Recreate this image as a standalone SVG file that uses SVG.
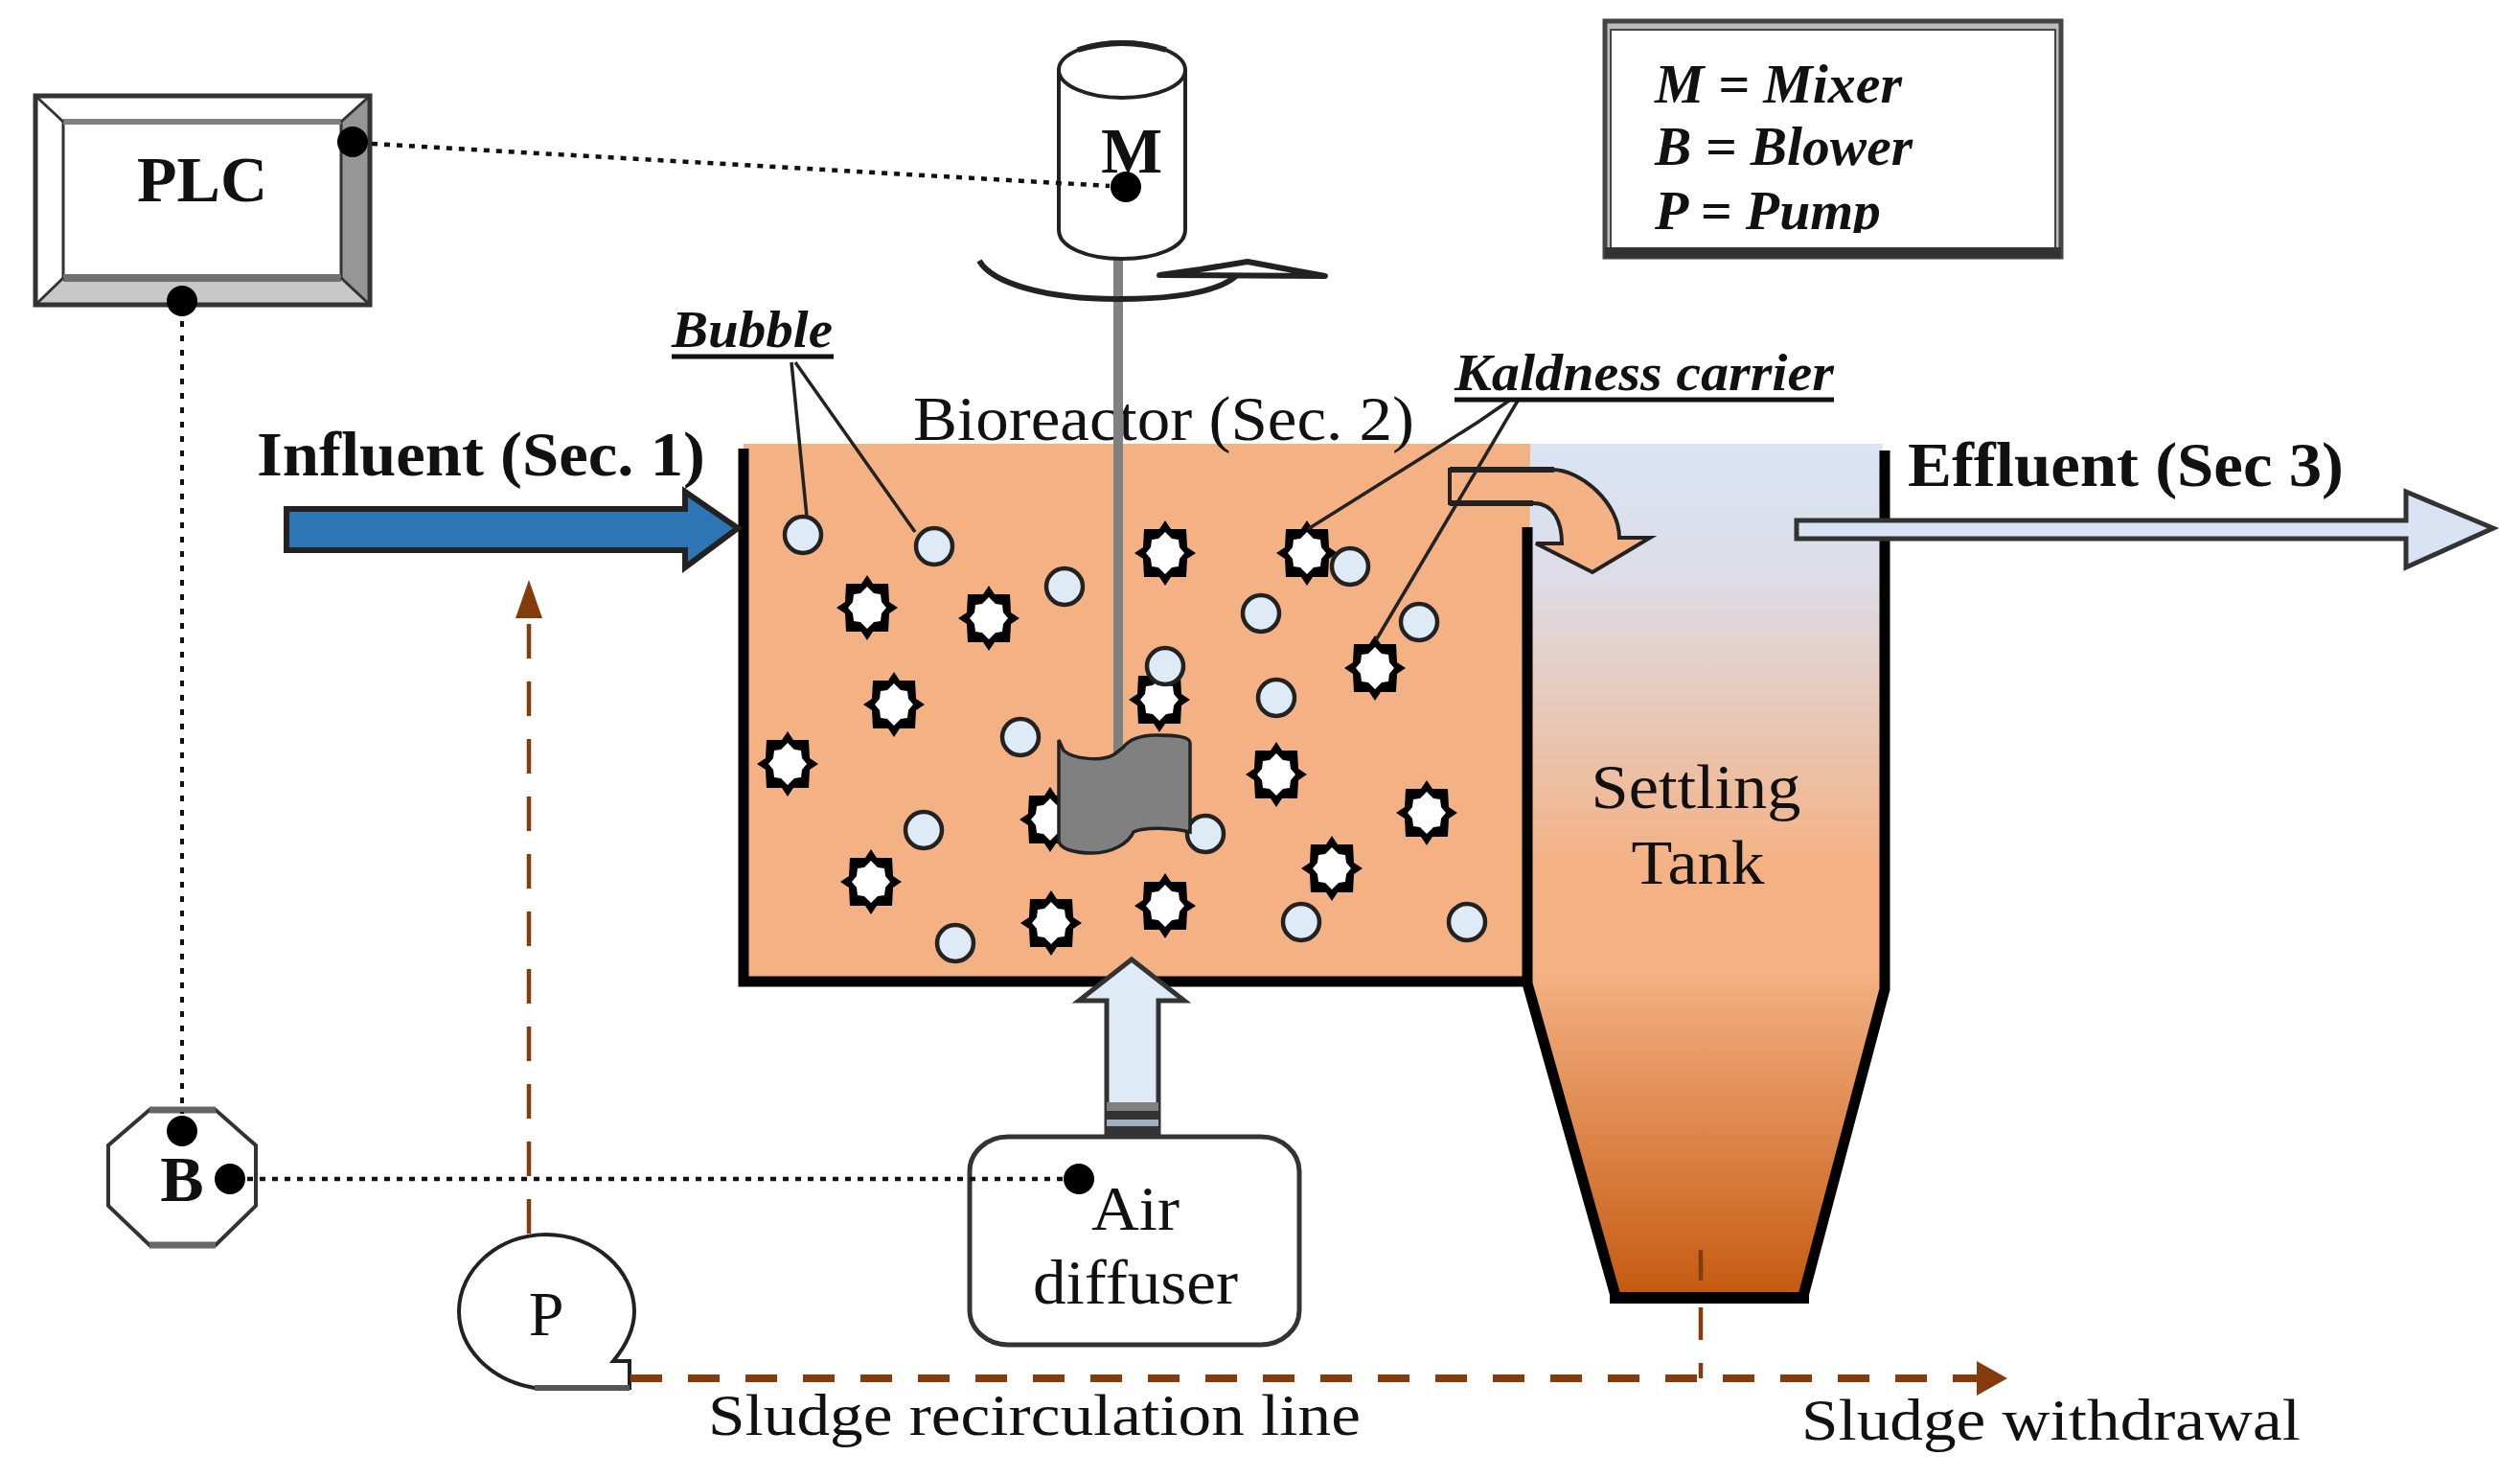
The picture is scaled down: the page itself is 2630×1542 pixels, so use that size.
<svg xmlns="http://www.w3.org/2000/svg" xmlns:xlink="http://www.w3.org/1999/xlink" width="2630" height="1542" viewBox="0 0 2630 1542">
<style>
text{font-family:"Liberation Serif","Times New Roman",serif;fill:#111}
.b{font-weight:bold}
.i{font-style:italic;font-weight:bold}
.dot{fill:#000}
.dotted{fill:none;stroke:#111;stroke-width:4.5;stroke-dasharray:6 7}
.dottedv{fill:none;stroke:#111;stroke-width:4;stroke-dasharray:6 9}
.sludge{fill:none;stroke:#843C0C;stroke-width:8;stroke-dasharray:33 27}
.thin{fill:none;stroke:#843C0C;stroke-width:4.5}
.leader{fill:none;stroke:#222;stroke-width:3.5}
.wall{fill:none;stroke:#000;stroke-width:11}
.bub{fill:#DEEBF7;stroke:#222;stroke-width:4.5}
</style>
<defs>
<linearGradient id="settle" x1="0" y1="0" x2="0" y2="1">
<stop offset="0" stop-color="#D9E4F4"/>
<stop offset="0.15" stop-color="#DDDDE8"/>
<stop offset="0.5" stop-color="#F4B183"/>
<stop offset="0.62" stop-color="#F4B183"/>
<stop offset="1" stop-color="#C55A11"/>
</linearGradient>
<g id="star">
<polygon points="0,-34 6,-25 22,-25 23,-6 32,0 23,6 22,25 6,25 0,34 -6,25 -22,25 -23,6 -32,0 -23,-6 -22,-25 -6,-25" fill="#000"/>
<polygon points="0,-22 7,-15 14,-14 15,-6 20,0 15,6 14,14 7,15 0,22 -7,15 -14,14 -15,6 -20,0 -15,-6 -14,-14 -7,-15" fill="#fff"/>
</g>
<clipPath id="legendClip"><rect x="1680" y="40" width="460" height="203"/></clipPath>
</defs>

<g id="plc">
<rect x="37" y="100" width="349" height="218" fill="#fff"/>
<polygon points="356,127 386,100 386,318 356,290" fill="#969696"/>
<polygon points="66,290 356,290 386,318 37,318" fill="#C8C8C8"/>
<rect x="37" y="100" width="349" height="218" fill="none" stroke="#333" stroke-width="5"/>
<rect x="66" y="127" width="290" height="163" fill="#fff" stroke="#333" stroke-width="3"/>
<path d="M66 127H356" stroke="#808080" stroke-width="6"/>
<path d="M66 290H356" stroke="#707070" stroke-width="8"/>
<path d="M37 100L66 127M386 100L356 127M37 318L66 290M386 318L356 290" stroke="#333" stroke-width="3"/>
<text class="b" x="211" y="210" font-size="68" text-anchor="middle" textLength="136" lengthAdjust="spacingAndGlyphs">PLC</text>
<circle class="dot" cx="368" cy="148" r="16"/>
<circle class="dot" cx="190" cy="314" r="16"/>
</g>

<g id="legend">
<rect x="1675" y="22" width="476" height="246" fill="#BDBDBD" stroke="#444" stroke-width="5"/>
<rect x="1681" y="31" width="464" height="228" fill="#fff" stroke="#444" stroke-width="2"/>
<rect x="1675" y="258" width="476" height="11" fill="#333"/>
<text class="i" x="1727" y="107" font-size="58" textLength="258" lengthAdjust="spacingAndGlyphs">M = Mixer</text>
<text class="i" x="1727" y="172" font-size="58" textLength="269" lengthAdjust="spacingAndGlyphs">B = Blower</text>
<text class="i" x="1727" y="239" font-size="58" textLength="236" lengthAdjust="spacingAndGlyphs" clip-path="url(#legendClip)">P = Pump</text>
</g>

<g id="bioreactor">
<rect x="776" y="463" width="821" height="557" fill="#F4B183"/>
<path d="M776 468V1024H1594" fill="none" stroke="#000" stroke-width="11"/>
<text x="953" y="459" font-size="66" textLength="523" lengthAdjust="spacingAndGlyphs">Bioreactor (Sec. 2)</text>
</g>

<g id="settling-tank">
<path d="M1597 463H1965V1030L1880 1352H1686L1594 1026Z" fill="url(#settle)"/>
<path class="wall" d="M1967 470V1032L1882 1352"/>
<path class="wall" d="M1594 550V1026L1686 1352"/>
<path d="M1680 1354H1888" stroke="#000" stroke-width="12"/>
<text x="1770" y="843" font-size="66" text-anchor="middle" textLength="219" lengthAdjust="spacingAndGlyphs">Settling</text>
<text x="1772" y="922" font-size="66" text-anchor="middle" textLength="139" lengthAdjust="spacingAndGlyphs">Tank</text>
</g>

<g id="overflow">
<path d="M1513 490H1620C1650 490 1690 525 1690 561H1722L1662 597L1603 567H1630C1630 545 1622 525 1600 525H1513Z" fill="#F4B183" stroke="#222" stroke-width="4"/>
<path d="M1513 490H1622M1513 525H1600" stroke="#222" stroke-width="6" fill="none"/>
</g>

<g id="carriers">
<use xlink:href="#star" href="#star" x="1216" y="577"/>
<use xlink:href="#star" href="#star" x="1364" y="577"/>
<use xlink:href="#star" href="#star" x="905" y="634"/>
<use xlink:href="#star" href="#star" x="1032" y="645"/>
<use xlink:href="#star" href="#star" x="933" y="735"/>
<use xlink:href="#star" href="#star" x="822" y="797"/>
<use xlink:href="#star" href="#star" x="1210" y="730"/>
<use xlink:href="#star" href="#star" x="1435" y="697"/>
<use xlink:href="#star" href="#star" x="1332" y="808"/>
<use xlink:href="#star" href="#star" x="1489" y="848"/>
<use xlink:href="#star" href="#star" x="1390" y="906"/>
<use xlink:href="#star" href="#star" x="909" y="920"/>
<use xlink:href="#star" href="#star" x="1097" y="963"/>
<use xlink:href="#star" href="#star" x="1216" y="945"/>
<use xlink:href="#star" href="#star" x="1096" y="855"/>
</g>

<g id="bubbles">
<circle class="bub" cx="838" cy="558" r="19"/>
<circle class="bub" cx="975" cy="570" r="19"/>
<circle class="bub" cx="1111" cy="612" r="19"/>
<circle class="bub" cx="1316" cy="640" r="19"/>
<circle class="bub" cx="1409" cy="591" r="19"/>
<circle class="bub" cx="1481" cy="649" r="19"/>
<circle class="bub" cx="1216" cy="695" r="19"/>
<circle class="bub" cx="1332" cy="728" r="19"/>
<circle class="bub" cx="1065" cy="769" r="19"/>
<circle class="bub" cx="964" cy="866" r="19"/>
<circle class="bub" cx="1258" cy="870" r="19"/>
<circle class="bub" cx="997" cy="984" r="19"/>
<circle class="bub" cx="1358" cy="962" r="19"/>
<circle class="bub" cx="1531" cy="962" r="19"/>
</g>

<g id="mixer">
<path d="M1167 270V790" stroke="#808080" stroke-width="10"/>
<path d="M1105 73V240C1105 258 1135 270 1171 270C1207 270 1237 258 1237 240V73" fill="#fff" stroke="#222" stroke-width="4"/>
<ellipse cx="1171" cy="73" rx="66" ry="29" fill="#fff" stroke="#222" stroke-width="4"/>
<path d="M1125 52Q1171 38 1217 52" fill="none" stroke="#222" stroke-width="6"/>
<text class="b" x="1181" y="180" font-size="68" text-anchor="middle">M</text>
<circle class="dot" cx="1175" cy="195" r="16"/>
<path d="M1022 272C1035 295 1090 312 1167 312C1225 312 1270 305 1290 288" fill="none" stroke="#222" stroke-width="6"/>
<polygon points="1210,287 1253,281 1302,273 1350,282 1383,288" fill="#fff" stroke="#222" stroke-width="6" stroke-linejoin="round"/>
<path d="M1105 772L1110 783C1120 792 1150 795 1163 787L1172 780C1178 772 1190 767 1207 767C1225 767 1242 768 1242 775V868C1225 864 1195 862 1183 868C1178 880 1160 890 1140 890C1120 890 1105 885 1105 877Z" fill="#808080" stroke="#222" stroke-width="3.5"/>
</g>

<g id="influent">
<polygon points="299,531 715,531 715,513 770,551 715,592 715,574 299,574" fill="#2E75B6" stroke="#222" stroke-width="6"/>
<text class="b" x="268" y="496" font-size="66" textLength="468" lengthAdjust="spacingAndGlyphs">Influent (Sec. 1)</text>
</g>

<g id="effluent">
<polygon points="1875,543 2511,543 2511,513 2602,551 2511,592 2511,562 1875,562" fill="#DAE3F3" stroke="#333" stroke-width="5"/>
<text class="b" x="1991" y="507" font-size="66" textLength="455" lengthAdjust="spacingAndGlyphs">Effluent (Sec 3)</text>
</g>

<g id="air-arrow">
<polygon points="1155,1187 1155,1044 1126,1044 1181,1001 1236,1044 1209,1044 1209,1187" fill="#DEEBF7" stroke="#333" stroke-width="5"/>
<rect x="1155" y="1150" width="54" height="9" fill="#808080"/>
<rect x="1155" y="1159" width="54" height="9" fill="#333"/>
<rect x="1155" y="1168" width="54" height="7" fill="#A0B0C0"/>
<rect x="1155" y="1175" width="54" height="12" fill="#333"/>
</g>

<g id="air-diffuser">
<rect x="1012" y="1186" width="344" height="217" rx="40" ry="36" fill="#fff" stroke="#333" stroke-width="5"/>
<text x="1185" y="1283" font-size="66" text-anchor="middle" textLength="92" lengthAdjust="spacingAndGlyphs">Air</text>
<text x="1185" y="1360" font-size="66" text-anchor="middle" textLength="214" lengthAdjust="spacingAndGlyphs">diffuser</text>
<circle class="dot" cx="1126" cy="1230" r="16"/>
</g>

<g id="blower">
<polygon points="156,1158 225,1158 267,1195 267,1258 225,1299 156,1299 113,1258 113,1195" fill="#fff" stroke="#333" stroke-width="4"/>
<path d="M156 1158H225M156 1299H225" stroke="#666" stroke-width="7"/>
<text class="b" x="190" y="1253" font-size="68" text-anchor="middle">B</text>
<circle class="dot" cx="190" cy="1180" r="16"/>
<circle class="dot" cx="240" cy="1230" r="16"/>
</g>

<g id="pump">
<path d="M657 1448H558C510 1440 479 1405 479 1368C479 1325 520 1288 570 1288C620 1288 662 1325 662 1368C662 1390 650 1408 640 1420H657Z" fill="#fff" stroke="#222" stroke-width="4"/>
<path d="M558 1448H657" stroke="#555" stroke-width="6"/>
<text x="570" y="1393" font-size="66" text-anchor="middle">P</text>
</g>

<g id="connectors">
<path class="dotted" d="M388 150L1158 194"/>
<path class="dottedv" d="M190 335V1162"/>
<path class="dotted" d="M258 1230H1110"/>
<path class="thin" d="M552 1287V640" stroke-dasharray="36 24"/>
<polygon points="552,605 566,645 538,645" fill="#843C0C"/>
<path class="sludge" d="M658 1438H2064"/>
<polygon points="2095,1438 2063,1420 2063,1456" fill="#843C0C"/>
<path class="thin" d="M1775 1304V1336M1775 1364V1398M1775 1422V1438"/>
<path class="leader" d="M826 378L842 539"/>
<path class="leader" d="M830 378L955 555"/>
<path d="M701 372H870" stroke="#111" stroke-width="5"/>
<path class="leader" d="M1575 418L1543 440L1480 480L1365 552"/>
<path class="leader" d="M1584 418L1436 668"/>
<path d="M1518 417H1914" stroke="#111" stroke-width="5"/>
</g>

<g id="labels">
<text class="i" x="701" y="362" font-size="54" textLength="168" lengthAdjust="spacingAndGlyphs">Bubble</text>
<text class="i" x="1518" y="407" font-size="54" textLength="396" lengthAdjust="spacingAndGlyphs">Kaldness carrier</text>
<text x="739" y="1497" font-size="62" textLength="681" lengthAdjust="spacingAndGlyphs">Sludge recirculation line</text>
<text x="1880" y="1502" font-size="62" textLength="521" lengthAdjust="spacingAndGlyphs">Sludge withdrawal</text>
</g>
</svg>
